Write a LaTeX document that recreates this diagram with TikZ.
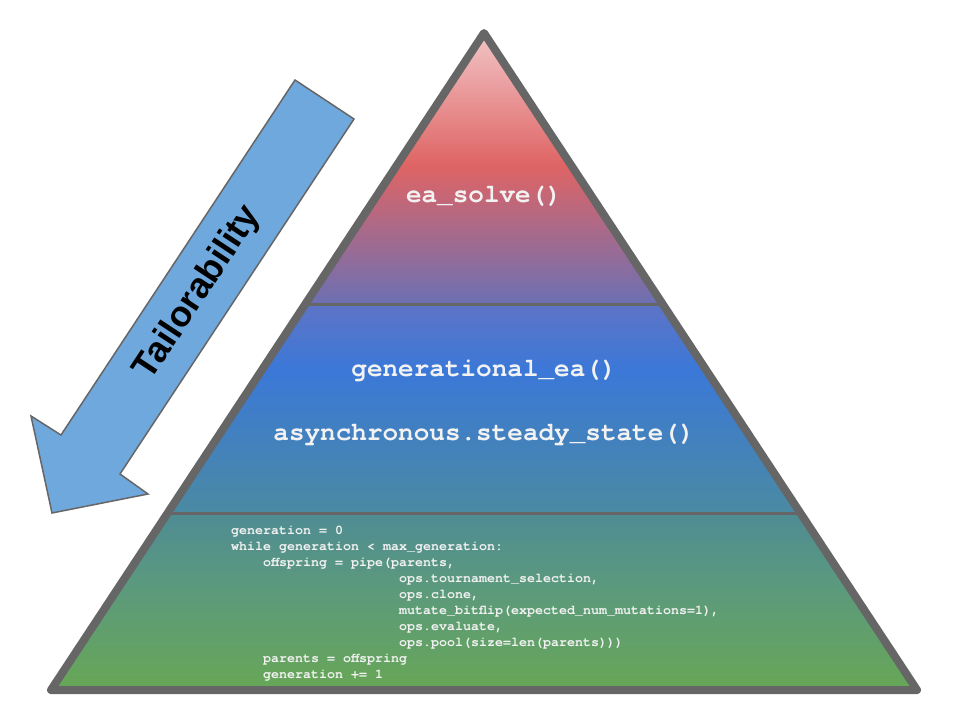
\documentclass[tikz,border=0pt]{standalone}
\usepackage{fontspec}
\newfontfamily\codefont{TeX Gyre Cursor}
\newfontfamily\labelfont{Liberation Sans}
\definecolor{edgegray}{HTML}{666666}
\definecolor{txtwhite}{HTML}{F2F2F2}
\definecolor{arrowblue}{HTML}{6FA8DC}
\definecolor{cA}{HTML}{F3C8CA}
\definecolor{cB}{HTML}{DF6464}
\definecolor{cC}{HTML}{6C70B4}
\definecolor{cD}{HTML}{5E74C6}
\definecolor{cE}{HTML}{3B78D8}
\definecolor{cF}{HTML}{4A8AA2}
\definecolor{cG}{HTML}{4F8C94}
\definecolor{cH}{HTML}{5C9A7C}
\definecolor{cI}{HTML}{68A852}
\tikzset{
  border/.style={draw=edgegray, line width=8pt, line join=round},
  tierline/.style={draw=edgegray, line width=3pt},
  biglabel/.style={text=txtwhite, font=\codefont\bfseries\fontsize{26}{30}\selectfont, anchor=base, inner sep=0pt},
  codeblock/.style={text=txtwhite, font=\codefont\bfseries\fontsize{13.33}{16}\selectfont, align=left, anchor=north west, inner sep=0pt},
  arrowbox/.style={fill=arrowblue, draw=edgegray, line width=1.5pt, line join=miter},
  arrowlabel/.style={font=\labelfont\bfseries\fontsize{36}{40}\selectfont, text=black, rotate=56.6, inner sep=0pt}
}
\begin{document}
\begin{tikzpicture}[x=1pt,y=-1pt]
\useasboundingbox (0,0) rectangle (960,720);
\coordinate (apex) at (484,33);
\coordinate (bl) at (51,690);
\coordinate (br) at (917,690);
\begin{scope}
  \clip (apex) -- (bl) -- (br) -- cycle;
  \shade[top color=cA, bottom color=cB] (0,28) rectangle (960,165.5);
  \shade[top color=cB, bottom color=cC] (0,165) rectangle (960,304.5);
  \shade[top color=cD, bottom color=cE] (0,304) rectangle (960,370.5);
  \shade[top color=cE, bottom color=cF] (0,370) rectangle (960,513.5);
  \shade[top color=cG, bottom color=cH] (0,513) rectangle (960,590.5);
  \shade[top color=cH, bottom color=cI] (0,590) rectangle (960,700);
  \coordinate (t1l) at (0,304);
  \coordinate (t1r) at (960,304);
  \coordinate (t2l) at (0,513);
  \coordinate (t2r) at (960,513);
  \draw[tierline] (t1l) -- (t1r);
  \draw[tierline] (t2l) -- (t2r);
\end{scope}
\draw[border] (apex) -- (bl) -- (br) -- cycle;

\node[biglabel] (solve) at (484,202) {ea\_solve()};
\node[biglabel] (gen) at (484,376) {generational\_ea()};
\node[biglabel] (async) at (484,440) {asynchronous.steady\_state()};

\node[codeblock] (loop) at (231,522) {\rule{0pt}{12pt}generation = 0\\
while generation < max\_generation:\\
\hspace*{32pt}offspring = pipe(parents,\\
\hspace*{168pt}ops.tournament\_selection,\\
\hspace*{168pt}ops.clone,\\
\hspace*{168pt}mutate\_bitflip(expected\_num\_mutations=1),\\
\hspace*{168pt}ops.evaluate,\\
\hspace*{168pt}ops.pool(size=len(parents)))\\
\hspace*{32pt}parents = offspring\\
\hspace*{32pt}generation += 1};

\draw[arrowbox] (295,80) -- (354,119) -- (120,474) -- (148,494) -- (52,513) -- (31,416) -- (61,435) -- cycle;
\node[arrowlabel] (tailor) at (198,293) {Tailorability};
\end{tikzpicture}
\end{document}
